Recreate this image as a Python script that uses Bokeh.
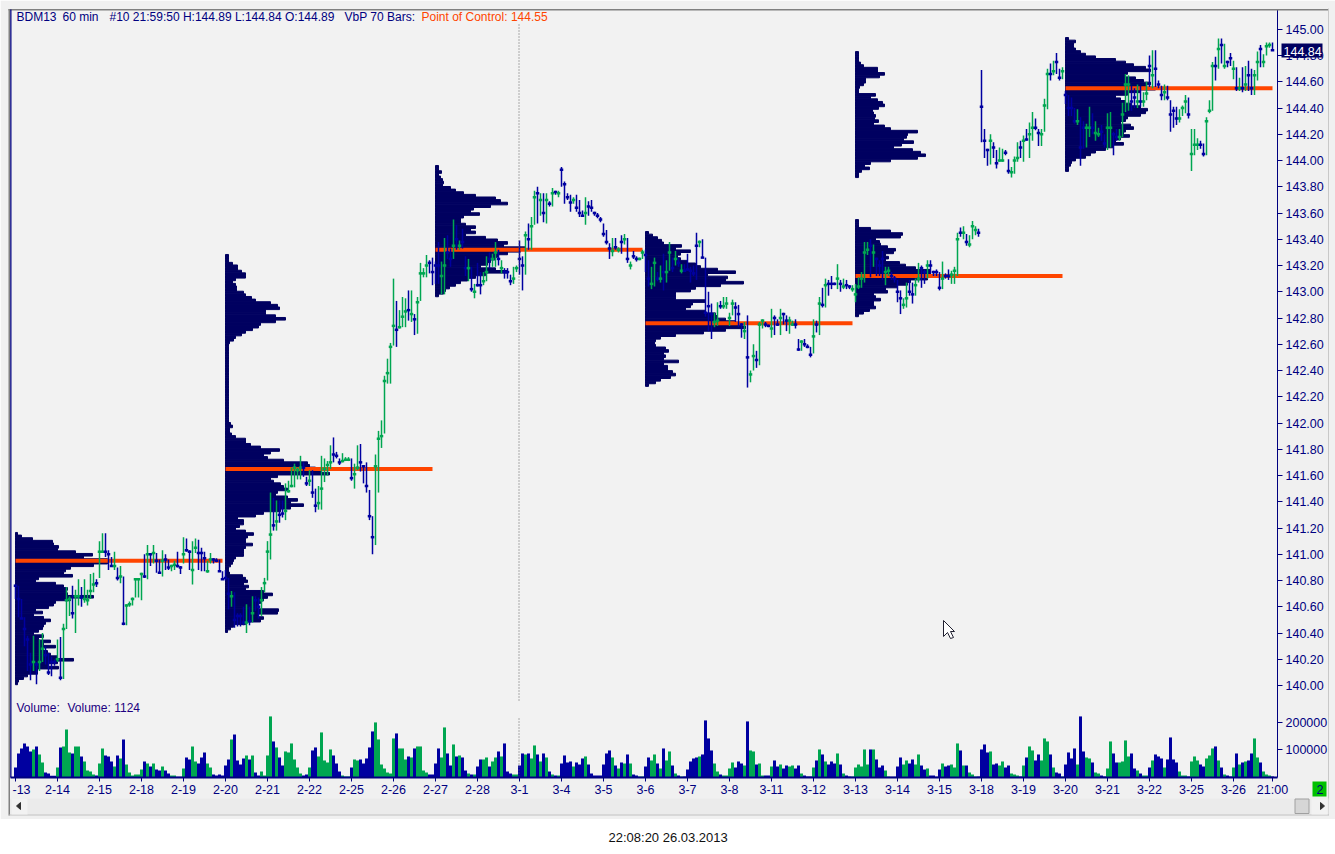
from bokeh.plotting import figure
from bokeh.embed import file_html
from bokeh.resources import INLINE
from bokeh.layouts import column
from bokeh.core.properties import value
from bokeh.models import ColumnDataSource, FixedTicker, Label, LinearAxis, Range1d, Span

FONT = "Liberation Sans"
NAVY = "#000080"
BAR_BLUE = "#0000A0"
BAR_GREEN = "#00A651"
PROFILE_NAVY = "#000060"
POC_RED = "#FF4500"

date_labels = ["", "2-14", "2-15", "2-18", "2-19", "2-20", "2-21", "2-22", "2-25", "2-26", "2-27", "2-28",
               "3-1", "3-4", "3-5", "3-6", "3-7", "3-8", "3-11", "3-12", "3-13", "3-14", "3-15", "3-18",
               "3-19", "3-20", "3-21", "3-22", "3-25", "3-26"]

bar_high = [
 77,76,66,52,38,25,38,18,35,40,30,25,22,20,
 35,37,47,75,68,76,73,81,75,81,73,85,86,81,
 110,116,116,103,98,102,90,91,83,62,64,67,82,82,
 86,100,107,101,107,101,96,103,100,96,92,95,102,91,
 113,112,103,110,112,111,105,102,95,101,97,97,96,87,
 88,82,72,71,55,55,60,62,60,68,68,67,75,82,
 110,147,143,141,141,141,154,156,166,169,166,175,170,159,
 164,164,150,152,175,173,171,183,189,178,173,177,174,174,
 173,169,183,184,168,170,149,129,176,194,202,236,249,261,
 310,293,286,296,295,301,301,283,296,322,318,328,324,326,
 323,338,323,341,343,333,355,351,339,348,327,325,319,306,
 322,315,315,327,330,329,338,332,324,318,318,313,319,320,
 339,327,346,352,357,377,380,375,375,375,369,379,377,377,
 395,384,375,374,372,374,370,362,372,369,370,361,360,357,
 352,347,337,341,341,334,343,344,341,323,331,327,326,332,
 332,324,319,326,315,320,329,324,338,326,331,326,321,321,
 329,319,320,345,339,340,326,300,291,284,292,293,296,296,
 284,294,292,290,276,277,282,240,260,255,277,279,277,275,
 287,282,279,287,284,282,281,278,279,264,263,264,260,258,
 279,278,296,303,310,309,312,307,321,309,310,309,305,305,
 306,311,315,338,338,340,336,326,324,331,319,319,315,312,
 309,301,295,307,309,307,310,322,320,317,324,324,316,317,
 315,323,314,317,316,319,345,349,350,344,343,354,350,348,
 469,424,409,420,414,408,410,409,408,401,395,403,414,415,
 419,424,429,437,432,424,424,447,470,474,476,482,470,471,
 453,450,448,440,439,433,430,428,441,436,430,425,427,420,
 436,437,422,424,424,444,466,465,457,455,458,457,452,460,
 480,484,484,461,457,458,457,446,441,441,439,442,450,448,
 424,424,417,415,413,433,446,475,479,493,493,489,476,482,
 476,471,463,471,472,476,470,469,483,488,481,490,490,490]
bar_low = [
 66,52,51,30,11,4,11,1,11,18,16,8,7,15,
 18,4,5,43,53,51,40,61,60,63,61,66,71,75,
 82,101,98,88,91,88,80,78,46,46,60,61,67,67,
 65,82,81,91,93,86,85,83,88,88,87,88,90,85,
 93,102,88,77,101,88,87,87,86,93,93,94,87,81,
 80,58,60,44,45,45,46,40,46,48,57,51,53,71,
 80,96,118,118,124,128,126,147,151,151,157,157,159,152,
 152,143,132,134,134,155,160,165,170,173,168,170,171,171,
 156,150,164,163,154,147,126,100,107,147,181,192,230,230,
 259,258,272,273,273,278,277,267,268,293,311,311,314,305,
 306,306,298,298,325,319,325,332,332,333,312,308,300,295,
 304,298,305,308,318,319,319,320,314,310,310,305,306,315,
 313,301,313,332,332,351,352,358,353,352,365,365,374,372,
 380,367,370,361,367,361,357,357,351,358,361,358,356,353,
 342,336,325,327,332,330,329,336,322,317,325,323,324,325,
 315,304,302,304,308,307,301,307,316,315,320,319,314,315,
 316,307,312,309,334,326,281,270,264,273,274,287,287,287,
 274,282,277,273,265,264,227,231,240,242,244,272,273,273,
 265,267,274,267,275,270,268,274,272,255,255,258,257,250,
 253,269,267,288,288,297,302,305,302,300,302,302,302,300,
 292,302,303,307,328,311,319,312,312,309,305,312,309,307,
 292,283,287,288,297,291,297,307,303,306,310,314,312,312,
 301,302,310,309,306,306,312,342,340,335,334,340,343,342,
 414,402,396,397,402,394,399,399,404,390,387,390,399,402,
 399,415,402,415,423,411,411,422,439,461,465,466,461,462,
 443,434,434,428,427,396,409,410,418,420,415,418,415,410,
 408,410,404,415,415,418,437,438,438,440,440,441,441,446,
 456,455,456,455,446,446,446,422,425,427,429,434,436,432,
 392,404,408,409,403,404,436,438,461,470,474,470,471,472,
 462,453,453,452,453,453,450,450,461,471,471,480,486,484]
bar_close = [
 76,66,51,43,35,16,18,16,18,28,23,10,18,18,
 20,6,43,65,66,55,68,68,67,66,65,72,77,78,
 102,102,102,100,91,91,82,83,47,61,62,66,81,81,
 85,83,100,100,101,95,86,95,96,90,91,92,91,90,
 100,103,102,88,105,101,101,97,87,96,96,95,87,81,
 82,70,68,50,53,53,48,48,49,55,65,60,65,78,
 102,115,122,125,130,131,133,148,152,166,164,166,166,154,
 156,147,137,139,150,165,168,170,176,175,170,171,172,172,
 158,161,166,170,167,152,129,113,167,188,190,232,238,258,
 274,271,273,281,285,286,283,279,292,314,314,320,322,315,
 320,320,312,320,330,325,335,340,335,338,318,318,302,300,
 305,305,308,315,325,325,330,325,318,315,315,308,310,318,
 325,320,343,340,350,372,375,370,360,370,367,375,376,375,
 393,382,372,368,370,364,360,358,360,365,364,360,358,355,
 344,338,333,331,334,332,338,340,325,320,327,325,325,330,
 328,310,306,322,310,310,315,315,330,318,325,322,316,316,
 317,316,314,335,338,326,284,289,283,277,278,289,289,291,
 280,291,288,283,275,270,250,237,251,248,275,278,275,274,
 272,280,275,280,283,278,278,275,275,256,262,260,258,252,
 266,275,291,290,305,306,306,306,310,306,304,305,304,302,
 298,304,310,330,332,335,330,325,320,325,315,316,312,310,
 300,295,290,295,300,298,305,310,318,315,320,320,315,315,
 303,310,312,312,313,316,340,345,345,338,336,350,347,345,
 441,415,408,415,410,398,400,400,406,392,391,400,402,410,
 415,416,420,425,425,421,420,442,466,466,468,475,463,468,
 450,440,440,430,430,410,425,425,425,425,421,420,422,413,
 425,425,420,418,418,435,458,458,445,448,445,445,445,451,
 472,465,470,458,450,452,448,435,438,432,432,440,445,435,
 405,412,412,412,405,430,438,472,472,485,488,472,475,478,
 470,455,455,455,458,465,455,465,475,485,475,487,488,484]
bar_direction = (
 "bbbbbbgbggbbbb" "gbgggbggbggggb" "ggbbbgbgbggggg" "gbgbgbbgbbggbb" "gbbggbbbggbbbb"
 "bbgbbbbgbgbbgg" "ggbgbbggggggbb" "gbbgggggbbbggg" "bggbbbbbgggggg" "gbgggbgbggggbb"
 "bbggbbgbgbbgbg" "bbggbggbgbbbgg" "bbgbggbgbgbgbg" "bbbbgbbbgbbbbb" "bbbgbgbgbgbbgg"
 "bbggbgbggbgbgb" "bbbbgbbbbggbgg" "ggbbbgbggbggbb" "gbbgbbggbbgbbb" "gbgbgbbbgbgbbg"
 "gggggbgbbbggbb" "bbggbbggbbgbbb" "bgbbgggbgbgggb" "bbbgbbggbbgggb" "gbggbbgggbgbbg"
 "bbbbgbbggbggbb" "ggbbggggbbgbgg" "bgbbbgbbbbgggb" "gggbbgggbgbgbb" "gbgbgbbggbgggb")
bar_volume = [
 30,72,87,102,93,78,84,93,69,45,15,12,5,5,
 30,90,93,144,75,72,93,93,63,48,21,18,9,6,
 42,87,66,63,48,33,66,57,114,39,15,6,9,9,
 24,48,42,33,42,24,21,33,21,12,6,6,2,2,
 27,60,54,93,48,42,60,75,42,30,9,6,9,6,
 36,54,114,129,51,39,57,66,54,66,15,6,18,6,
 66,183,108,90,60,36,78,75,102,54,30,12,6,9,
 30,81,90,63,135,51,45,84,66,42,18,6,3,3,
 30,54,51,54,42,57,90,138,165,114,39,27,15,12,
 117,132,87,87,54,63,60,87,93,93,21,15,9,9,
 42,87,60,150,72,36,99,63,66,60,21,12,9,9,
 33,54,54,60,33,48,60,78,63,102,18,12,9,9,
 36,72,69,72,57,96,69,48,72,60,18,9,6,6,
 42,66,45,48,33,45,39,57,63,39,12,6,6,6,
 39,72,81,60,36,27,45,42,69,42,9,6,3,3,
 33,60,51,69,42,27,87,51,78,36,12,6,3,3,
 24,48,57,60,63,69,171,117,81,42,18,9,6,6,
 27,45,30,48,42,36,168,81,78,39,42,6,6,6,
 33,51,33,39,27,36,33,36,27,36,12,6,3,3,
 30,51,84,69,48,39,48,42,72,39,12,6,3,3,
 30,39,33,84,39,84,84,54,30,36,21,3,2,2,
 33,60,39,51,42,54,39,69,36,24,27,6,6,2,
 24,42,33,36,39,30,102,81,36,36,15,9,3,3,
 84,99,75,78,39,42,36,48,30,36,12,9,6,3,
 36,60,93,81,51,69,51,117,108,69,30,15,12,3,
 39,75,57,87,39,183,78,60,57,45,15,12,6,3,
 27,108,72,45,45,48,111,63,72,27,21,12,6,6,
 30,51,69,63,57,30,54,120,54,45,18,6,6,3,
 48,63,51,39,33,57,66,87,93,51,30,9,6,3,
 30,72,39,45,48,51,72,117,60,45,18,9,6,3]

profile_start = [0, 70, 140, 210, 280, 350]
profile_top = [141.166, 143.284, 143.962, 143.459, 144.83, 144.937]
poc_price = [140.95, 141.65, 143.32, 142.76, 143.12, 144.55]
profile_1 = [2,6,17,37,38,43,42,60,77,68,92,92,78,55,50,48,57,23,20,40,48,52,50,52,78,55,40,38,33,20,
             27,18,28,35,30,28,27,23,18,28,23,35,28,40,28,32,35,42,58,42,33,43,22,22,12,8,3,2]
profile_2 = [3,3,3,7,12,12,16,20,20,10,7,10,11,11,18,20,26,30,45,52,54,40,40,50,60,50,35,33,27,20,16,10,8,4,3,
             3,3,3,3,3,3,3,3,3,3,3,3,3,3,3,3,3,3,3,3,3,3,3,3,3,3,3,3,3,
             5,7,4,4,6,10,20,20,25,35,54,45,38,42,58,82,84,90,95,104,52,45,48,55,58,62,52,50,62,72,65,78,65,55,
             38,30,12,18,18,14,10,20,28,22,20,20,27,20,18,18,18,
             10,8,7,5,3,3,4,17,20,22,18,23,20,38,47,42,38,35,32,33,53,52,32,38,35,20,8,5,2]
profile_3 = [3,3,6,3,5,7,8,7,15,20,28,40,60,65,72,55,38,35,44,28,25,25,30,40,35,40,30,50,62,72,68,90,85,72,
             62,60,55,52,45,60,72,50,40,32,25,20,14,10,8,3]
profile_4 = [3,7,12,16,18,36,30,45,35,32,35,42,50,55,72,90,62,82,80,98,75,50,45,30,30,30,60,47,45,40,60,70,
             72,80,90,95,100,80,58,30,15,10,9,10,20,23,18,20,18,33,18,22,22,27,30,25,15,10,3]
profile_5 = [3,3,3,3,5,8,22,22,29,24,10,10,8,4,3,3,20,15,22,27,29,23,17,18,20,19,23,18,29,35,62,52,51,48,58,
             46,38,57,65,70,62,35,15,9,14,6,3,3,
             0,0,0,0,0,0,0,0,0,0,0,0,0,0,0,0,
             3,3,3,15,35,47,45,20,24,25,32,40,38,30,33,30,44,50,60,75,75,90,72,55,52,42,30,32,18,20,25,18,18,20,14,8,3]
profile_6 = [3,10,8,8,10,15,20,30,50,60,68,80,85,62,60,70,78,85,80,90,75,62,50,55,60,65,75,82,80,75,62,60,55,
             65,68,60,58,64,55,50,58,48,40,30,25,20,10,6,5,3,3]
profiles = [profile_1, profile_2, profile_3, profile_4, profile_5, profile_6]
PROFILE_STEP = 0.02

price_ticks = [140 + 0.2 * k for k in range(26)]
volume_ticks = [100000, 200000]

W, H = 1335, 819
F_L, F_T, F_R, F_B = 10, 9, 1277, 777
PX_PER_PRICE = 131.25
PX_PER_VOL = 27.7 / 100000
px_to_price = lambda py: 140 + (685 - py) / PX_PER_PRICE
x_to_i = lambda px: (px - 15) / 3
price_top, price_bottom = px_to_price(F_T), px_to_price(F_B)
vol_top = (F_B - F_T) / PX_PER_VOL

p = figure(width=W, height=H, output_backend="svg", toolbar_location=None, frame_align=False,
           x_range=Range1d(x_to_i(F_L), x_to_i(F_R)), y_range=Range1d(price_bottom, price_top),
           x_axis_location=None, y_axis_location=None,
           min_border_left=F_L, min_border_right=W - F_R, min_border_top=F_T, min_border_bottom=H - F_B,
           background_fill_color="#F2F2F2", border_fill_color="#F0F0F0", outline_line_color=None)
p.grid.visible = False
p.extra_y_ranges = {"volume": Range1d(0, vol_top)}

vol_tick_pos = [round(price_bottom + v / vol_top * (price_top - price_bottom), 4) for v in volume_ticks]
tick_pos = [round(t, 4) for t in price_ticks] + vol_tick_pos
overrides = {round(t, 4): f"{t:.2f}" for t in price_ticks}
overrides.update({pos: str(v) for pos, v in zip(vol_tick_pos, volume_ticks)})
yaxis = LinearAxis(ticker=FixedTicker(ticks=tick_pos), major_label_overrides=overrides,
                   axis_line_color=NAVY, major_tick_line_color=NAVY, major_tick_out=5, major_tick_in=0,
                   minor_tick_line_color=None, major_label_standoff=3,
                   major_label_text_color=NAVY, major_label_text_font=FONT, major_label_text_font_size="12.5px")
p.add_layout(yaxis, "right")
x_ticks = [14 * d for d in range(len(date_labels))] + [419]
x_over = {14 * d: s for d, s in enumerate(date_labels)}
x_over[419] = "21:00"
xaxis = LinearAxis(ticker=FixedTicker(ticks=x_ticks), major_label_overrides=x_over,
                   axis_line_color=NAVY, axis_line_width=2, major_tick_line_color=NAVY, major_tick_out=4, major_tick_in=0,
                   minor_tick_line_color=None, major_label_standoff=1,
                   major_label_text_color=NAVY, major_label_text_font=FONT, major_label_text_font_size="12.5px")
p.add_layout(xaxis, "below")

for start, top, widths in zip(profile_start, profile_top, profiles):
    ys = [top - (k + 0.5) * PROFILE_STEP for k, w in enumerate(widths) if w > 0]
    rights = [start + w / 3 for w in widths if w > 0]
    p.hbar(y=ys, left=start, right=rights, height=PROFILE_STEP,
           fill_color=PROFILE_NAVY, line_color=PROFILE_NAVY, line_width=1)

p.segment(x0=profile_start, x1=[s + 69 for s in profile_start], y0=poc_price, y1=poc_price,
          line_color=POC_RED, line_width=4)

idx = list(range(len(bar_high)))
colors = [BAR_GREEN if d == "g" else BAR_BLUE for d in bar_direction]
src = ColumnDataSource(dict(i=idx, hi=[140 + v / 100 for v in bar_high], lo=[140 + v / 100 for v in bar_low],
                            cl=[140 + v / 100 for v in bar_close], c=colors,
                            vol=[v * 1205 for v in bar_volume]))
p.segment(x0="i", x1="i", y0="lo", y1="hi", line_color="c", line_width=1.5, source=src)
p.rect(x="i", y="cl", width=3.5, height=2.5, width_units="screen", height_units="screen",
       fill_color="c", line_color=None, source=src)

p.vbar(x="i", width=1.0, top="vol", bottom=0, y_range_name="volume", fill_color="c", line_color=None, source=src)

cross_x = x_to_i(518.5)
p.segment(x0=[cross_x], x1=[cross_x], y0=[px_to_price(700)], y1=[px_to_price(24)],
          line_color="#606060", line_width=1, line_dash="1 2")
p.segment(x0=[cross_x], x1=[cross_x], y0=[px_to_price(776)], y1=[px_to_price(716)],
          line_color="#606060", line_width=1, line_dash="1 2")


def label(text, px, py, color=NAVY):
    p.add_layout(Label(x=px - F_L, y=F_B - py, x_units="screen", y_units="screen", text=text, text_color=color,
                       text_font=FONT, text_font_size="12px", text_baseline="middle"))


label("BDM13", 16, 16)
label("60 min", 62, 16)
label("#10 21:59:50 H:144.89 L:144.84 O:144.89", 109, 16)
label("VbP 70 Bars:", 344, 16)
label("Point of Control: 144.55", 421, 16, color=POC_RED)
label("Volume:", 16, 707, color="#200080")
label("Volume: 1124", 67, 707, color="#200080")

# Transparent overlay in page pixels: window furniture that lies outside the plot frame
o = figure(width=W, height=H, output_backend="svg", toolbar_location=None, frame_align=False,
           x_range=Range1d(0, W), y_range=Range1d(H, 0), x_axis_location=None, y_axis_location=None,
           min_border=0, outline_line_color=None, background_fill_alpha=0, border_fill_alpha=0,
           styles={"position": "absolute", "left": "0px", "top": "0px"})
o.grid.visible = False


def box(l, t, r, b, color, line=None):
    o.quad(left=[l], right=[r], top=[t], bottom=[b], fill_color=color, line_color=line)


def otext(text, px, py, color):
    o.text(x=[px], y=[py], text=[text], text_color=color, text_font=value(FONT), text_font_size="12.5px",
           text_baseline="middle", text_align="left")


box(8, 8.5, 1328, 10, "#808080")          # top edge
box(8, 8.5, 9.5, 815, "#808080")          # left edge
box(9.7, 9, 11, 777, NAVY)                # navy frame line
box(1327.5, 8, 1328.5, 815, "#C8C8C8")    # right edge
box(9.5, 798, 1328, 814, "#EBEBEB")       # scroll track
box(8, 814, 1328, 815, "#C0C0C0")
box(11, 798, 27, 814, "#F2F2F2")          # left button
box(1311, 798, 1327, 814, "#F2F2F2")      # right button
box(1294.5, 798.5, 1308.5, 813, "#D6D6D6", line="#A0A0A0")  # thumb
o.patch(x=[16, 20, 20], y=[805.5, 802, 809], fill_color="#303030", line_color="#303030")
o.patch(x=[1320, 1324, 1320], y=[802, 805.5, 809], fill_color="#303030", line_color="#303030")
o.patch(x=[943, 943, 947, 950, 953, 950, 954], y=[620, 636, 632, 638, 637, 631, 631],
        fill_color="#FFFFFF", line_color="#202030", line_width=1)

box(1281, 43, 1322, 57, "#000060")        # last-price tag
otext("144.84", 1283, 50.5, "#FFFFFF")
box(1312, 781, 1326, 796, "#00C000")      # page number
otext("2", 1316, 788.5, NAVY)
otext("-13", 12, 788.5, NAVY)

q = figure(width=W, height=35, output_backend="svg", toolbar_location=None, frame_align=False,
           x_range=Range1d(0, W), y_range=Range1d(35, 0), x_axis_location=None, y_axis_location=None,
           min_border=0, outline_line_color=None, background_fill_color="#FFFFFF", border_fill_color="#FFFFFF")
q.grid.visible = False
q.text(x=[608], y=[18], text=["22:08:20 26.03.2013"], text_align="left", text_baseline="middle",
       text_font=value(FONT), text_font_size="13px", text_color="#101010")

page = column(p, q, o, spacing=0)
open("out.html", "w").write(file_html(page, INLINE))
